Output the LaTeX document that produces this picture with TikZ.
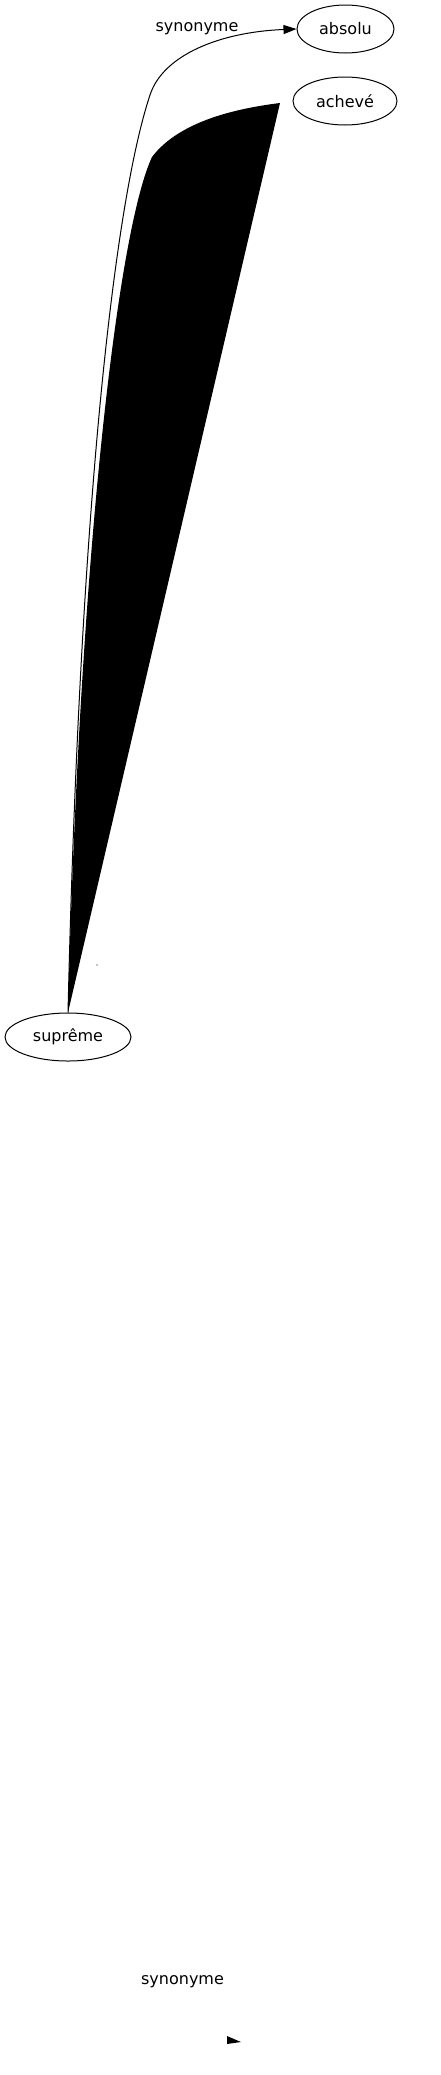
\documentclass[tikz,border=0pt]{standalone}
\usepackage{fontspec}
\setmainfont{DejaVu Sans}
\usetikzlibrary{shapes.geometric,arrows.meta}
\begin{document}
\begin{tikzpicture}[x=1pt, y=-1pt, line width=1pt,
        every node/.style={font=\fontsize{16}{19}\selectfont},
        word/.style={draw, ellipse, inner sep=0pt, minimum height=48pt},
        rel/.style={-{Triangle[length=13pt,width=9pt]}}]
    \useasboundingbox (0,0) rectangle (441,2075);
    % words
    \node[word, minimum width=97pt] (absolu) at (345.5,29) {absolu};
    \node[word, minimum width=104pt] (acheve) at (345,101) {achevé};
    \node[word, minimum width=126pt] (supreme) at (68,1037) {suprême};
    % synonyme edge
    \draw[rel] (supreme.north) .. controls (80,500) and (115,200) .. (150,95)
        .. controls (163,55) and (220,32) .. (absolu.west);
    \node (syn1) at (197,29) {synonyme};
    % the second edge, filled
    \coordinate (achend) at (280,103);
    \fill (supreme.north) .. controls (80,550) and (118,230) .. (152,157)
        .. controls (180,120) and (240,108) .. (achend) -- cycle;
    \fill (97,965) circle (0.6pt);
    % its label and tip, far below
    \node (syn2) at (182.5,1982) {synonyme};
    \coordinate (tip) at (241,2042);
    \fill (227,2036) -- (tip) -- (227,2044) -- cycle;
\end{tikzpicture}
\end{document}
